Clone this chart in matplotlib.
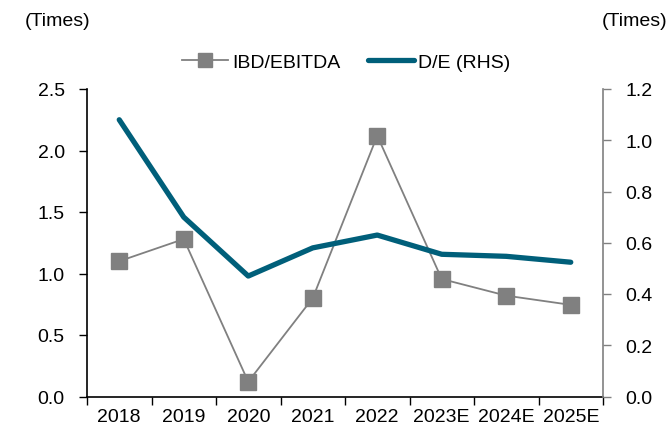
import numpy as np
import matplotlib
matplotlib.use("Agg")
import matplotlib.pyplot as plt
from matplotlib.ticker import MultipleLocator, FixedLocator

plt.rcParams['font.family'] = ['Liberation Sans', 'DejaVu Sans']

years = ['2018', '2019', '2020', '2021', '2022', '2023E', '2024E', '2025E']
ibd_ebitda = [1.10, 1.28, 0.12, 0.80, 2.12, 0.955, 0.82, 0.745]
de_ratio = [1.08, 0.70, 0.47, 0.58, 0.63, 0.555, 0.547, 0.524]

GREY = '#808080'
TEAL = '#005F7A'
FS = 14

fig = plt.figure(figsize=(6.71, 4.35), dpi=100)
ax = fig.add_axes([87 / 671, 1 - 397.5 / 435, 516 / 671, 307.5 / 435])
ax2 = ax.twinx()

x = np.arange(len(years))
l1, = ax.plot(x, ibd_ebitda, color=GREY, lw=1.3, marker='s', ms=11.5,
              markerfacecolor=GREY, markeredgecolor=GREY, zorder=3, label='IBD/EBITDA')
l2, = ax2.plot(x, de_ratio, color=TEAL, lw=3.8, solid_capstyle='round',
               solid_joinstyle='round', zorder=2, label='D/E (RHS)')

ax.set_xlim(-0.5, len(years) - 0.5)
ax.set_ylim(0, 2.5)
ax2.set_ylim(0, 1.2)
ax.yaxis.set_major_locator(MultipleLocator(0.5))
ax2.yaxis.set_major_locator(MultipleLocator(0.2))
ax.yaxis.set_major_formatter(lambda v, p: f'{v:.1f}')
ax2.yaxis.set_major_formatter(lambda v, p: f'{v:.1f}')

ax.set_xticks(x)
ax.set_xticklabels(years)
ax.xaxis.set_minor_locator(FixedLocator(np.arange(-0.5, len(years), 1.0)))
ax.tick_params(axis='x', which='major', length=0, pad=8, labelsize=FS)
ax.tick_params(axis='x', which='minor', length=6, width=1, direction='out', color='black')
ax.tick_params(axis='y', length=6, width=1, direction='out', color='black', pad=10, labelsize=FS)
ax2.tick_params(axis='y', length=6, width=1, direction='out', color=GREY, pad=10, labelsize=FS)

for a in (ax, ax2):
    a.spines['top'].set_visible(False)
ax2.spines['left'].set_visible(False)
ax2.spines['bottom'].set_visible(False)
ax.spines['right'].set_visible(False)
ax.spines['left'].set_color('black')
ax.spines['bottom'].set_color('black')
ax2.spines['right'].set_color(GREY)
ax.spines['left'].set_linewidth(1.2)
ax.spines['bottom'].set_linewidth(1.2)
ax2.spines['right'].set_linewidth(1.2)

fig.text(25 / 671, 1 - 22 / 435, '(Times)', fontsize=FS, ha='left', va='center')
fig.text(667 / 671, 1 - 22 / 435, '(Times)', fontsize=FS, ha='right', va='center')

fig.legend([l1, l2], ['IBD/EBITDA', 'D/E (RHS)'], loc='center',
           bbox_to_anchor=(346 / 671, 1 - 63 / 435), ncol=2, frameon=False,
           fontsize=FS, handlelength=2.4, handletextpad=0.2, columnspacing=1.4,
           markerscale=0.9)

fig.savefig('out.png', dpi=100)
